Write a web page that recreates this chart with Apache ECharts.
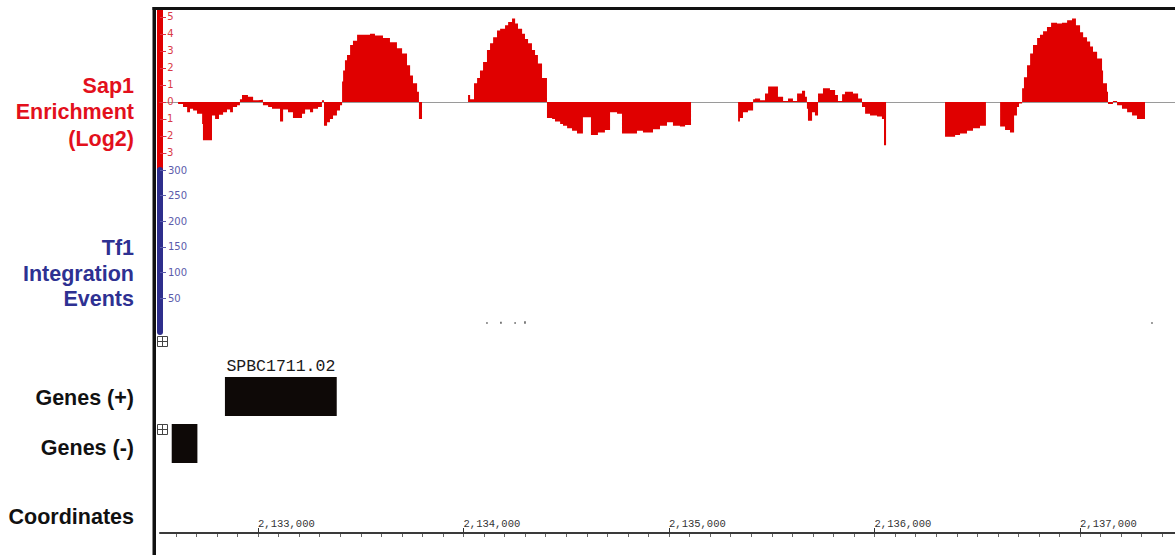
<!DOCTYPE html>
<html><head><meta charset="utf-8">
<script src="https://cdn.jsdelivr.net/npm/echarts@6/dist/echarts.min.js"></script>
<style>html,body{margin:0;padding:0;background:#fff}#c{width:1175px;height:555px}</style>
</head><body><div id="c"></div>
<script>
// ---------------- DATA ----------------
// Sap1 enrichment (log2): each value holds from its start coordinate to the next start; null = no data
const sapStarts = [
  2132611,2132635,2132655,2132669,2132684,2132703,2132728,2132732,2132776,2132791,
  2132810,2132830,2132849,2132864,2132878,2132898,2132912,2132922,2132951,2132976,
  2133000,2133024,2133049,2133068,2133107,2133122,2133146,2133170,2133214,2133229,
  2133253,2133268,2133292,2133311,2133321,2133336,2133350,2133365,2133384,2133399,
  2133409,2133414,2133423,2133433,2133448,2133462,2133482,2133545,2133569,2133608,
  2133642,2133676,2133701,2133725,2133740,2133754,2133774,2133783,2133798,
  2134022,2134032,2134051,2134066,2134080,2134095,2134114,2134129,2134144,2134163,
  2134178,2134202,2134217,2134236,2134251,2134265,2134285,2134299,2134314,2134333,
  2134348,2134362,2134382,2134406,2134431,2134445,2134470,2134484,2134504,2134528,
  2134552,2134581,2134620,2134654,2134688,2134713,2134747,2134771,2134844,2134873,
  2134922,2134956,2134990,2135019,2135053,2135078,2135107,
  2135336,2135345,2135360,2135384,2135409,2135418,2135443,2135467,2135482,2135530,
  2135555,2135579,2135603,2135623,2135647,2135662,2135671,2135676,2135696,2135710,
  2135725,2135749,2135783,2135808,2135822,2135842,2135856,2135895,2135920,2135939,
  2135954,2135978,2136012,2136036,2136046,2136056,
  2136343,2136392,2136416,2136450,2136479,2136513,2136542,
  2136611,2136635,2136659,2136679,2136693,2136703,2136718,2136727,2136742,2136757,
  2136771,2136791,2136805,2136820,2136839,2136859,2136888,2136912,2136937,2136961,
  2136980,2137000,2137015,2137034,2137049,2137063,2137083,2137107,2137112,2137131,
  2137136,2137160,2137180,2137204,2137229,2137253,2137277,2137316
];
const sapValues = [
  -0.12,-0.3,-0.6,-0.4,-0.5,-0.7,-1.3,-2.25,-0.8,-1.0,
  -0.75,-0.6,-0.45,-0.6,-0.3,-0.2,0.15,0.4,0.3,0.1,
  0.13,-0.2,-0.3,-0.4,-1.15,-0.45,-0.6,-0.95,-0.7,-0.45,
  -0.6,-0.4,-0.3,0.1,-1.4,-1.2,-1.0,-0.8,-0.5,-0.2,
  1.2,1.85,2.45,2.75,3.35,3.6,3.95,4.0,3.9,3.75,
  3.5,3.15,2.85,2.15,1.55,1.1,0.6,-1.0,null,
  0.4,0.15,1.1,1.4,1.85,2.35,3.05,3.45,3.8,4.2,
  4.3,4.5,4.7,4.9,4.6,4.3,4.0,3.7,3.45,3.05,
  2.75,2.25,1.4,-0.95,-1.0,-1.15,-1.3,-1.4,-1.55,-1.7,
  -1.85,-0.9,-1.95,-1.8,-1.65,-0.6,-0.7,-1.85,-1.7,-1.8,
  -1.6,-1.4,-1.2,-1.4,-1.45,-1.35,null,
  -1.15,-0.95,-0.6,-0.5,0.15,0.2,0.1,0.5,0.9,0.3,
  0.05,0.2,0.05,0.5,0.65,0.3,-0.4,-1.1,-0.6,-0.8,
  0.5,0.8,0.7,0.4,0.05,0.45,0.6,0.5,0.2,-0.3,
  -0.7,-0.8,-0.85,-1.0,-2.55,null,
  -2.05,-1.95,-1.85,-1.7,-1.55,-1.4,null,
  -1.45,-1.65,-1.8,-0.8,-0.3,-0.1,0.8,1.45,2.15,2.85,
  3.35,3.75,3.95,4.15,4.4,4.65,4.6,4.65,4.8,4.9,
  4.5,4.1,3.8,3.55,3.25,2.95,2.55,1.85,1.1,0.6,
  -0.12,0.05,-0.2,-0.4,-0.6,-0.8,-1.0,null
];
// Tf1 integration events
const tf1Positions = [2134114, 2134182, 2134251, 2134299, 2137350];
const tf1Counts = [3, 4, 3, 5, 3];
// Genes
const geneNames = ['SPBC1711.02', ''];
const geneStarts = [2132839, 2132580];
const geneEnds = [2133383, 2132705];
const geneRows = ['Genes (+)', 'Genes (-)'];
const geneRowCategories = ['Genes (-)', 'Genes (+)'];
// Axis ticks
const sapTicks = [-3, -2, -1, 0, 1, 2, 3, 4, 5];
const tf1Ticks = [50, 100, 150, 200, 250, 300];
const coordTicks = [2133000, 2134000, 2135000, 2136000, 2137000];
const coordTickLabels = ['2,133,000', '2,134,000', '2,135,000', '2,136,000', '2,137,000'];
const X_MIN = 2132523, X_MAX = 2137462;

// ---------------- BUILD ----------------
const sapPoints = [];
for (let i = 0; i < sapStarts.length; i++) {
  const v = sapValues[i];
  if (v === null) {
    if (i > 0 && sapValues[i - 1] !== null) sapPoints.push([sapStarts[i], sapValues[i - 1]]);
    sapPoints.push([sapStarts[i], null]);
  } else sapPoints.push([sapStarts[i], v]);
}
const minorTicks = [];
for (let v = Math.ceil(X_MIN / 100) * 100; v <= X_MAX; v += 100) minorTicks.push(v);

const RED = '#e00000', BLUE = '#2e2e8c';
const chart = echarts.init(document.getElementById('c'), null, {renderer: 'svg'});
const hiddenX = (g) => ({gridIndex: g, type: 'value', min: X_MIN, max: X_MAX, show: false});
const labelFont = '"Liberation Sans", Arial, sans-serif';

function iconPlus(y) {
  return {type: 'group', z: 100, children: [
    {type: 'rect', shape: {x: 157.5, y: y, width: 10, height: 10}, style: {fill: '#fff', stroke: '#444', lineWidth: 1}},
    {type: 'line', shape: {x1: 157.5, y1: y + 5, x2: 167.5, y2: y + 5}, style: {stroke: '#444', lineWidth: 1}},
    {type: 'line', shape: {x1: 162.5, y1: y, x2: 162.5, y2: y + 10}, style: {stroke: '#444', lineWidth: 1}}
  ]};
}

const option = {
  animation: false,
  backgroundColor: '#fff',
  grid: [
    {left: 160, right: 0, top: 10, height: 160},
    {left: 160, right: 0, top: 170, height: 162},
    {left: 160, right: 0, top: 373, height: 94},
    {left: 160, right: 0, top: 533, height: 1}
  ],
  xAxis: [
    {gridIndex: 0, type: 'value', min: X_MIN, max: X_MAX,
     axisLine: {show: true, onZero: true, lineStyle: {color: '#9a9a9a', width: 1}},
     axisTick: {show: false}, axisLabel: {show: false}, splitLine: {show: false}},
    hiddenX(1), hiddenX(2),
    {gridIndex: 3, type: 'value', min: X_MIN, max: X_MAX, position: 'top',
     axisLine: {show: true, onZero: false, lineStyle: {color: '#3a3a3a', width: 2}},
     axisTick: {show: true, customValues: coordTicks, length: 5, lineStyle: {color: '#333', width: 1}},
     axisLabel: {show: true, customValues: coordTicks, align: 'left', margin: 4,
       formatter: (v) => coordTickLabels[coordTicks.indexOf(v)] || '',
       fontFamily: '"Liberation Mono", monospace', fontSize: 10.5, color: '#333'},
     splitLine: {show: false}},
    {gridIndex: 3, type: 'value', min: X_MIN, max: X_MAX, position: 'bottom',
     axisLine: {show: false, onZero: false},
     axisTick: {show: true, customValues: minorTicks, length: 3, lineStyle: {color: '#666', width: 1}},
     axisLabel: {show: false}, splitLine: {show: false}}
  ],
  yAxis: [
    {gridIndex: 0, type: 'value', min: -4, max: 5.4,
     axisLine: {show: true, onZero: false, lineStyle: {color: RED, width: 6}},
     axisTick: {show: true, inside: true, length: 6, customValues: sapTicks, lineStyle: {color: '#e03040', width: 1}},
     axisLabel: {show: true, inside: true, customValues: sapTicks, align: 'right', margin: 13.5,
       color: '#d93a45', fontSize: 10, fontFamily: '"DejaVu Sans", sans-serif'},
     splitLine: {show: false}},
    {gridIndex: 1, type: 'value', min: -16, max: 300,
     axisLine: {show: true, onZero: false, lineStyle: {color: BLUE, width: 6}},
     axisTick: {show: true, inside: true, length: 6, customValues: tf1Ticks, lineStyle: {color: '#5b5bab', width: 1}},
     axisLabel: {show: true, inside: true, customValues: tf1Ticks, align: 'left', margin: 8,
       color: '#5b5bab', fontSize: 10, fontFamily: '"DejaVu Sans", sans-serif'},
     splitLine: {show: false}},
    {gridIndex: 2, type: 'category', data: geneRowCategories, show: false},
    {gridIndex: 3, type: 'value', show: false}
  ],
  series: [
    {type: 'line', xAxisIndex: 0, yAxisIndex: 0, step: 'end', data: sapPoints,
     symbol: 'none', showSymbol: false, connectNulls: false, silent: true,
     lineStyle: {width: 0, color: RED}, areaStyle: {color: RED, opacity: 1, origin: 'auto'}},
    {type: 'custom', xAxisIndex: 1, yAxisIndex: 1, silent: true,
     data: tf1Positions.map((p, i) => [p, tf1Counts[i]]),
     encode: {x: 0, y: 1},
     renderItem: (params, api) => {
       const top = api.coord([api.value(0), api.value(1)]);
       const base = api.coord([api.value(0), 0]);
       return {type: 'rect', shape: {x: top[0] - 0.75, y: top[1], width: 1.5, height: base[1] - top[1]},
               style: {fill: '#555'}};
     }},
    {type: 'custom', xAxisIndex: 2, yAxisIndex: 2, silent: true,
     data: geneStarts.map((s, i) => [s, geneEnds[i], geneRowCategories.indexOf(geneRows[i])]),
     encode: {x: [0, 1], y: 2},
     renderItem: (params, api) => {
       const row = api.value(2);
       const p0 = api.coord([api.value(0), row]);
       const p1 = api.coord([api.value(1), row]);
       const h = api.size([0, 1])[1] * 0.83;
       const children = [{type: 'rect', shape: {x: p0[0], y: p0[1] - h / 2, width: p1[0] - p0[0], height: h},
                          style: {fill: '#0e0907'}}];
       const name = geneNames[params.dataIndex];
       if (name) children.push({type: 'text', style: {text: name, x: (p0[0] + p1[0]) / 2, y: p0[1] - h / 2 - 10.5,
         align: 'center', verticalAlign: 'middle', font: '16.5px "Liberation Mono", monospace', fill: '#1a1a1a'}});
       return {type: 'group', children};
     }}
  ],
  graphic: [
    {type: 'rect', z: 100, shape: {x: 152.5, y: 7, width: 3.5, height: 548}, style: {fill: '#111'}},
    {type: 'rect', z: 100, shape: {x: 152.5, y: 7, width: 1023, height: 3}, style: {fill: '#111'}},
    iconPlus(336.5),
    iconPlus(424.5),
    {type: 'text', z: 100, style: {text: 'Sap1\nEnrichment\n(Log2)', x: 134, y: 112, align: 'right', verticalAlign: 'middle',
      lineHeight: 26.5, font: 'bold 21.5px ' + labelFont, fill: '#e3101c'}},
    {type: 'text', z: 100, style: {text: 'Tf1\nIntegration\nEvents', x: 134, y: 273.5, align: 'right', verticalAlign: 'middle',
      lineHeight: 25.5, font: 'bold 21.5px ' + labelFont, fill: '#2e3192'}},
    {type: 'text', z: 100, style: {text: 'Genes (+)', x: 134, y: 398, align: 'right', verticalAlign: 'middle',
      font: 'bold 21.5px ' + labelFont, fill: '#111'}},
    {type: 'text', z: 100, style: {text: 'Genes (-)', x: 134, y: 448, align: 'right', verticalAlign: 'middle',
      font: 'bold 21.5px ' + labelFont, fill: '#111'}},
    {type: 'text', z: 100, style: {text: 'Coordinates', x: 134, y: 517, align: 'right', verticalAlign: 'middle',
      font: 'bold 21.5px ' + labelFont, fill: '#111'}}
  ]
};
chart.setOption(option);
</script>
</body></html>
